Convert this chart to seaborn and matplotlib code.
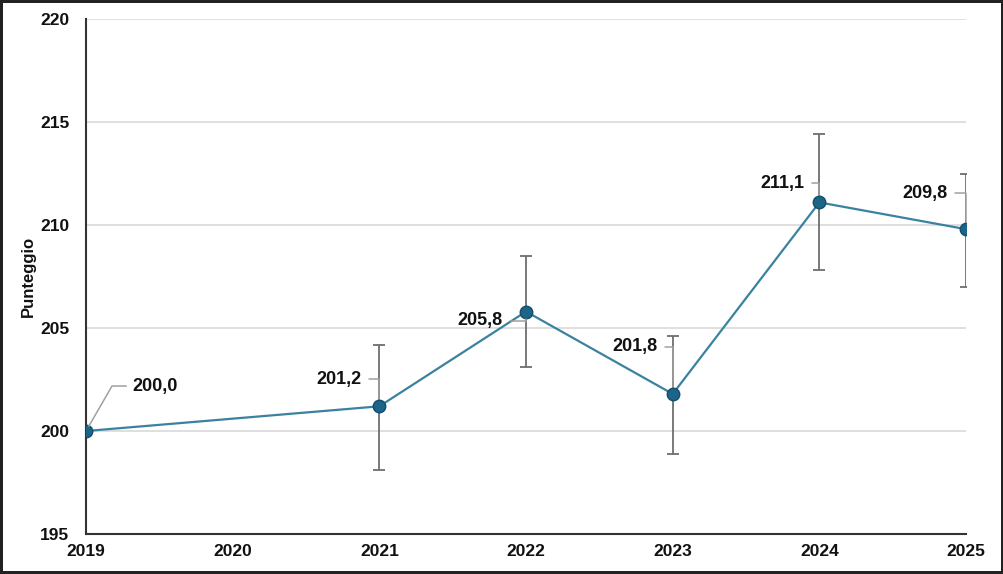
import numpy as np
import pandas as pd
import matplotlib
matplotlib.use("Agg")
from matplotlib import pyplot as plt
import seaborn as sns

# data
years = [2019, 2021, 2022, 2023, 2024, 2025]
scores = [200.0, 201.2, 205.8, 201.8, 211.1, 209.8]
err_low = [np.nan, 198.1, 203.1, 198.9, 207.8, 207.0]
err_high = [np.nan, 204.2, 208.5, 204.6, 214.4, 212.5]
labels = ["200,0", "201,2", "205,8", "201,8", "211,1", "209,8"]
# label offsets in pixels from each point
label_dx = [69, -40, -46, -38, -37, -41]
label_dy = [45, 27, -9, 47, 19, 36]
xticks = [2019, 2020, 2021, 2022, 2023, 2024, 2025]

sns.set_theme(style="white")
plt.rcParams['font.family'] = ['Liberation Sans', 'DejaVu Sans']

df = pd.DataFrame({"anno": years, "punteggio": scores})

fig = plt.figure(figsize=(10.04, 5.74), dpi=100, edgecolor="#222222", linewidth=4)
ax = fig.add_axes([0.0857, 0.0697, 0.8765, 0.897])

# error bars first so the line sits on top
lo = np.array(scores) - np.array(err_low)
hi = np.array(err_high) - np.array(scores)
ax.errorbar(years, scores, yerr=[lo, hi], fmt="none", ecolor="#6e6e6e",
            elinewidth=1.3, capsize=4, capthick=1.3, zorder=2)

sns.lineplot(data=df, x="anno", y="punteggio", ax=ax, color="#3a829f",
             linewidth=1.6, marker="o", markersize=9,
             markerfacecolor="#1c6488", markeredgecolor="#134d6b",
             markeredgewidth=1, zorder=4)

for x, y, t, dx, dy in zip(years, scores, labels, label_dx, label_dy):
    if x == 2019:
        arrow = dict(arrowstyle="-", color="#a0a0a0", lw=1.1, shrinkA=2, shrinkB=4,
                     relpos=(0, 0.5),
                     connectionstyle="angle,angleA=180,angleB=60,rad=0")
    else:
        arrow = dict(arrowstyle="-", color="#a0a0a0", lw=1.1, shrinkA=3, shrinkB=5,
                     relpos=(1, 0.5),
                     connectionstyle="angle,angleA=0,angleB=90,rad=0")
    ax.annotate(t, xy=(x, y), xytext=(dx, dy), textcoords="offset pixels",
                ha="center", va="center", fontsize=13, fontweight="bold",
                color="#111111", zorder=5, arrowprops=arrow)

ax.set_xlim(2019, 2025)
ax.set_ylim(195, 220)
ax.set_xticks(xticks)
ax.set_xticklabels([str(v) for v in xticks])
ax.set_yticks([195, 200, 205, 210, 215, 220])
ax.yaxis.grid(True, color="#d9d9d9", linewidth=1.2)
ax.set_axisbelow(True)

for s in ["top", "right"]:
    ax.spines[s].set_visible(False)
for s in ["left", "bottom"]:
    ax.spines[s].set_color("#333333")
    ax.spines[s].set_linewidth(1.5)

ax.tick_params(axis="x", direction="inout", length=8, width=1.3, color="#333333",
               labelsize=12.5, pad=3)
ax.tick_params(axis="y", length=0, labelsize=12.5, pad=12)
for lab in ax.get_xticklabels() + ax.get_yticklabels():
    lab.set_fontweight("bold")
    lab.set_color("#111111")

ax.set_xlabel("")
ax.set_ylabel("Punteggio", fontsize=12, fontweight="bold", color="#111111", labelpad=3)

fig.savefig("out.png", dpi=100, edgecolor=fig.get_edgecolor())
